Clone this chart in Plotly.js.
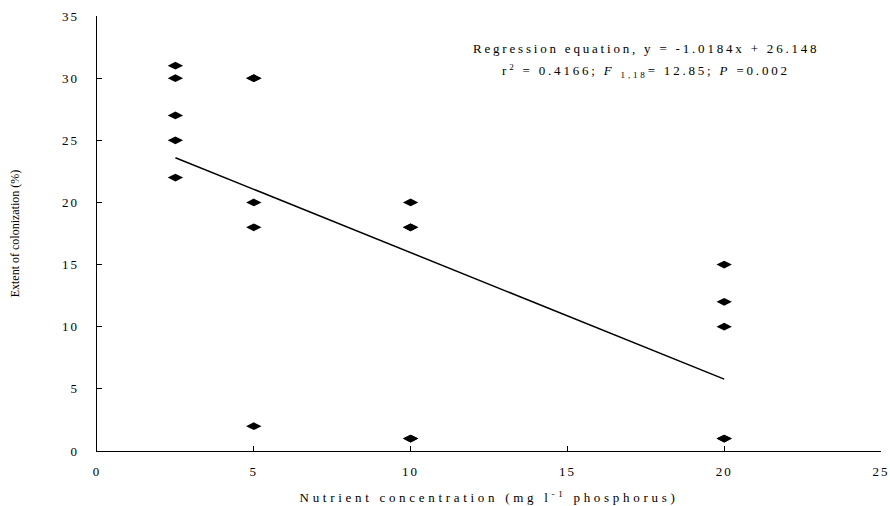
<!DOCTYPE html>
<html><head><meta charset="utf-8">
<script src="https://cdn.plot.ly/plotly-3.0.1.min.js"></script>
<style>
html,body{margin:0;padding:0;background:#fff;}
.xtick text,.ytick text{letter-spacing:2px;}
.annotation-text{letter-spacing:2.8px;}
.g-xtitle text{letter-spacing:3.7px;}
</style>
</head><body>
<div id="chart" style="width:890px;height:506px;"></div>
<script>
// Data
const nutrientX = [2.5,2.5,2.5,2.5,2.5, 5,5,5,5,5, 10,10,10,10,10, 20,20,20,20,20];
const colonizationY = [31,30,27,25,22, 30,30,20,18,2, 20,18,18,1,1, 15,12,10,1,1];
const fitX = [2.5, 20];
const fitY = [23.60, 5.78];
const xTicks = [0,5,10,15,20,25];
const yTicks = [0,5,10,15,20,25,30,35];

const serif = '"Liberation Serif", "Times New Roman", serif';

const traces = [
  {x: nutrientX, y: colonizationY, type:'scatter', mode:'markers',
   marker:{symbol:'diamond-wide', size:11, color:'#000'}, showlegend:false, cliponaxis:false},
  {x: fitX, y: fitY, type:'scatter', mode:'lines',
   line:{color:'#000', width:1.5}, showlegend:false}
];

const layout = {
  width:890, height:506,
  margin:{l:97, r:9, t:16, b:55},
  paper_bgcolor:'#fff', plot_bgcolor:'#fff',
  font:{family:serif, color:'#000', size:13},
  xaxis:{range:[0,25], tickvals:xTicks, ticktext:xTicks.map(String), ticks:'inside', ticklen:5,
    tickcolor:'#000', showline:true, linecolor:'#000', linewidth:1.3, showgrid:false, zeroline:false,
    ticklabelstandoff:8, tickfont:{family:serif, size:13},
    title:{text:'Nutrient concentration (mg l<sup>-1</sup> phosphorus)', font:{family:serif,size:13}, standoff:15}},
  yaxis:{range:[0,35], tickvals:yTicks, ticktext:yTicks.map(String), ticks:'inside', ticklen:5,
    tickcolor:'#000', showline:true, linecolor:'#000', linewidth:1.3, showgrid:false, zeroline:false,
    ticklabelstandoff:14, tickfont:{family:serif, size:13},
    title:{text:'Extent of colonization (%)', font:{family:serif,size:12}, standoff:40}},
  annotations:[
    {x:17.50, y:32.40, xref:'x', yref:'y', showarrow:false, xanchor:'center', yanchor:'middle',
     text:'Regression equation, y = -1.0184x + 26.148', font:{family:serif,size:13}},
    {x:17.50, y:30.55, xref:'x', yref:'y', showarrow:false, xanchor:'center', yanchor:'middle',
     text:'r<sup>2</sup> = 0.4166; <i>F</i> <sub>1,18</sub>= 12.85; <i>P</i> =0.002', font:{family:serif,size:13}}
  ]
};

Plotly.newPlot('chart', traces, layout, {staticPlot:true, displayModeBar:false});
</script>
</body></html>
